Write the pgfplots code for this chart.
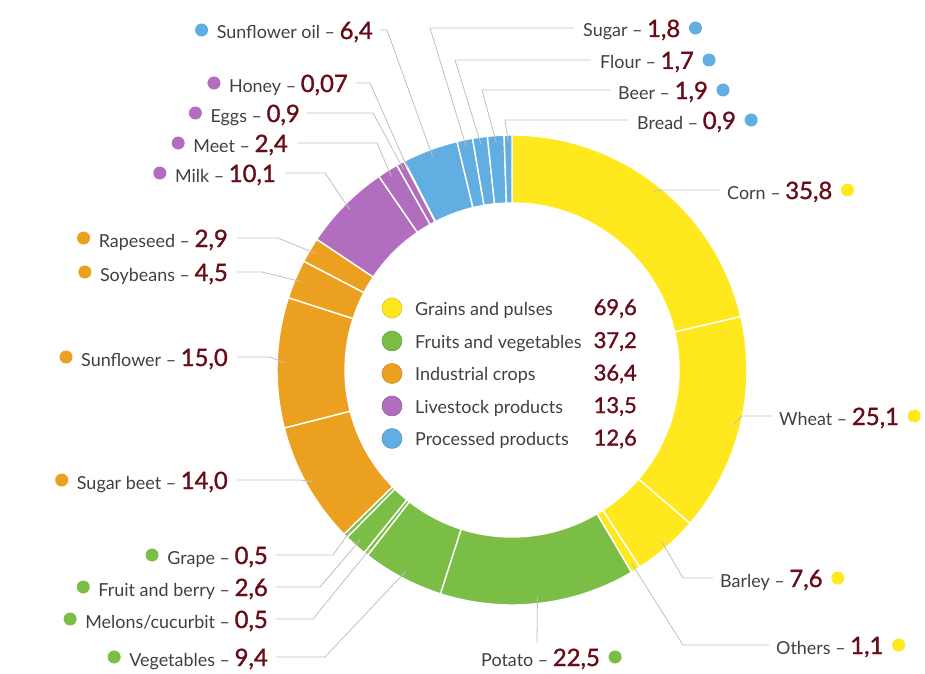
\documentclass[border=0pt]{standalone}
\usepackage{pgfplots}
\pgfplotsset{compat=1.18}
\usepackage{pgfplotstable}
\usepackage{fontspec}
\setmainfont{Lato}
\newfontface\numfont{Lato}[FakeBold=1.3]
\definecolor{cY}{RGB}{255,233,30}
\definecolor{cG}{RGB}{122,190,70}
\definecolor{cO}{RGB}{236,160,32}
\definecolor{cP}{RGB}{177,110,190}
\definecolor{cB}{RGB}{98,174,226}
\definecolor{numc}{RGB}{105,12,26}
\definecolor{txt}{RGB}{64,64,64}
\definecolor{lead}{RGB}{192,192,192}

\newcommand\lbl[2]{{\fontsize{18}{20}\selectfont\color{txt}#1 – }{\numfont\fontsize{24}{26}\selectfont\color{numc}#2}}

\pgfplotstableread[col sep=semicolon]{
name;value;disp;col;side;lx;ly;sx;ex;ey
Corn;35.8;35,8;cY;R;727;190;720;662;190
Wheat;25.1;25,1;cY;R;779;416;772;742;416
Barley;7.6;7,6;cY;R;720;578;713;683;578
Others;1.1;1,1;cY;R;776;645;769;683;645
Potato;22.5;22,5;cG;R;481;657;537;537;643
Vegetables;9.4;9,4;cG;L;268;657;276;325;657
Melons/cucurbit;0.5;0,5;cG;L;268;619;276;313;619
Fruit and berry;2.6;2,6;cG;L;268;587;276;320;587
Grape;0.5;0,5;cG;L;268;555;276;333;555
Sugar beet;14.0;14,0;cO;L;228;480;237;300;480
Sunflower;15.0;15,0;cO;L;228;357;237;270;357
Soybeans;4.5;4,5;cO;L;228;272;237;262;272
Rapeseed;2.9;2,9;cO;L;228;238;237;278;238
Milk;10.1;10,1;cP;L;276;173;285;325;173
Meet;2.4;2,4;cP;L;288;143;297;377;143
Eggs;0.9;0,9;cP;L;300;113;307;373;113
Honey;0.07;0,07;cP;L;348;83;356;370;83
Sunflower oil;6.4;6,4;cB;L;373;30;380;387;30
Sugar;1.8;1,8;cB;R;583;28;574;430;28
Flour;1.7;1,7;cB;R;600;60;591;455;60
Beer;1.9;1,9;cB;R;618;90;610;482;90
Bread;0.9;0,9;cB;R;637;120;628;505;120
}\slices

\newcommand\getrow[1]{%
  \pgfplotstablegetelem{#1}{value}\of\slices\edef\sVal{\pgfplotsretval}%
  \pgfplotstablegetelem{#1}{name}\of\slices\edef\sName{\pgfplotsretval}%
  \pgfplotstablegetelem{#1}{disp}\of\slices\edef\sDisp{\pgfplotsretval}%
  \pgfplotstablegetelem{#1}{col}\of\slices\edef\sCol{\pgfplotsretval}%
  \pgfplotstablegetelem{#1}{side}\of\slices\edef\sSide{\pgfplotsretval}%
  \pgfplotstablegetelem{#1}{lx}\of\slices\edef\sLx{\pgfplotsretval}%
  \pgfplotstablegetelem{#1}{ly}\of\slices\edef\sLy{\pgfplotsretval}%
  \pgfplotstablegetelem{#1}{sx}\of\slices\edef\sSx{\pgfplotsretval}%
  \pgfplotstablegetelem{#1}{ex}\of\slices\edef\sEx{\pgfplotsretval}%
  \pgfplotstablegetelem{#1}{ey}\of\slices\edef\sEy{\pgfplotsretval}%
}
\def\Lside{L}

\begin{document}
\begin{tikzpicture}
\begin{axis}[name=ax, scale only axis, width=925bp, height=674bp,
  xmin=0, xmax=925, ymin=0, ymax=674, y dir=reverse,
  hide axis, clip=false]
\pgfplotstablegetrowsof{\slices}
\pgfmathtruncatemacro\nrows{\pgfplotsretval-1}
\def\total{0}
\pgfplotsforeachungrouped \i in {0,...,\nrows}{%
  \pgfplotstablegetelem{\i}{value}\of\slices
  \pgfmathsetmacro\total{\total+\pgfplotsretval}}
% ring slices
\def\cum{0}
\pgfplotsforeachungrouped \i in {0,...,\nrows}{%
  \getrow{\i}%
  \pgfmathsetmacro\sA{90-(\cum/\total)*360}%
  \pgfmathsetmacro\cum{\cum+\sVal}%
  \pgfmathsetmacro\sB{90-(\cum/\total)*360}%
  \edef\cmd{\noexpand\fill[\sCol, draw=white, line width=1.4bp]
    ([shift={(\sA:235bp)}]axis cs:512,370) arc[start angle=\sA, end angle=\sB, radius=235bp]
    -- ([shift={(\sB:167bp)}]axis cs:512,370) arc[start angle=\sB, end angle=\sA, radius=167bp] -- cycle;}%
  \cmd
}
% leader lines and labels
\def\cum{0}
\pgfplotsforeachungrouped \i in {0,...,\nrows}{%
  \getrow{\i}%
  \pgfmathsetmacro\sA{90-(\cum/\total)*360}%
  \pgfmathsetmacro\cum{\cum+\sVal}%
  \pgfmathsetmacro\sB{90-(\cum/\total)*360}%
  \pgfmathsetmacro\sM{(\sA+\sB)/2}%
  \pgfmathsetmacro\sPx{512+228*cos(\sM)}%
  \pgfmathsetmacro\sPy{370-228*sin(\sM)}%
  \pgfmathsetmacro\sLyb{\sLy+9}%
  \edef\cmd{\noexpand\draw[lead, line width=0.8bp] (axis cs:\sSx,\sEy) -- (axis cs:\sEx,\sEy) -- (axis cs:\sPx,\sPy);}%
  \cmd
  \ifx\sSide\Lside
    \edef\cmd{\noexpand\node[anchor=base east, inner sep=0pt] (n\i) at (axis cs:\sLx,\sLyb) {\noexpand\lbl{\sName}{\sDisp}};
      \noexpand\fill[\sCol] ([xshift=-15bp]n\i.base west) ++(0,9bp) circle[radius=6.5bp];}%
  \else
    \edef\cmd{\noexpand\node[anchor=base west, inner sep=0pt] (n\i) at (axis cs:\sLx,\sLyb) {\noexpand\lbl{\sName}{\sDisp}};
      \noexpand\fill[\sCol] ([xshift=15bp]n\i.base east) ++(0,9bp) circle[radius=6.5bp];}%
  \fi
  \cmd
}
% central legend
\addplot[only marks, mark=*, mark size=10, color=cY, mark options={draw=cY!85!black, line width=0.6bp}] coordinates {(392,308)};
\addplot[only marks, mark=*, mark size=10, color=cG, mark options={draw=cG!85!black, line width=0.6bp}] coordinates {(392,341)};
\addplot[only marks, mark=*, mark size=10, color=cO, mark options={draw=cO!85!black, line width=0.6bp}] coordinates {(392,373.5)};
\addplot[only marks, mark=*, mark size=10, color=cP, mark options={draw=cP!85!black, line width=0.6bp}] coordinates {(392,406)};
\addplot[only marks, mark=*, mark size=10, color=cB, mark options={draw=cB!85!black, line width=0.6bp}] coordinates {(392,438.5)};
\begin{scope}[every node/.style={inner sep=0pt, font=\fontsize{18}{20}\selectfont, text=txt, anchor=base west}]
\node at (axis cs:415,315) {Grains and pulses};
\node at (axis cs:415,348) {Fruits and vegetables};
\node at (axis cs:415,380.5) {Industrial crops};
\node at (axis cs:415,413) {Livestock products};
\node at (axis cs:415,445.5) {Processed products};
\end{scope}
\begin{scope}[every node/.style={inner sep=0pt, font=\numfont\fontsize{22}{24}\selectfont, text=numc, anchor=base east}]
\node at (axis cs:637,315) {69,6};
\node at (axis cs:637,348) {37,2};
\node at (axis cs:637,380.5) {36,4};
\node at (axis cs:637,413) {13,5};
\node at (axis cs:637,445.5) {12,6};
\end{scope}
\end{axis}
\pgfresetboundingbox
\useasboundingbox (ax.south west) rectangle (ax.north east);
\end{tikzpicture}
\end{document}
